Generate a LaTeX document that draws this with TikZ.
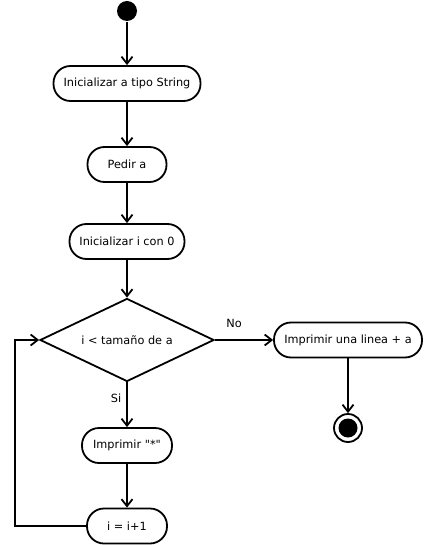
\documentclass[tikz,border=0pt]{standalone}
\usepackage{fontspec}
\setmainfont{DejaVu Sans}[Ligatures=TeXOff]
\usetikzlibrary{arrows.meta,shapes.geometric}
\begin{document}
\begin{tikzpicture}[x=1pt,y=-1pt,
  font=\fontsize{11.3}{13}\selectfont,
  line width=1.8pt,
  flow/.style={-{Straight Barb[length=7pt,width=11pt,line width=1.8pt]}},
  act/.style={draw,rounded corners=17pt,minimum height=35pt,inner sep=0pt},
  choice/.style={draw,diamond,minimum width=174pt,minimum height=83pt,inner sep=0pt,aspect=2.1},
  lbl/.style={inner sep=0pt}]
\useasboundingbox (0,0) rectangle (423,545);

% start and end
\node[circle,fill=black,minimum size=20pt,inner sep=0pt] (start) at (127,11) {};
\node[circle,draw,minimum size=28pt,inner sep=0pt] (stop) at (348,428) {};
\fill[black] (stop.center) circle (9.5pt);

% actions
\node[act,minimum width=147pt] (init) at (127,83.5) {Inicializar a tipo String};
\node[act,minimum width=79pt] (ask) at (127,164.5) {Pedir a};
\node[act,minimum width=115pt] (zero) at (127,241.5) {Inicializar i con 0};
\node[choice] (test) at (127,340) {i < tamaño de a};
\node[act,minimum width=148pt] (line) at (348,340) {Imprimir una linea + a};
\node[act,minimum width=90pt] (star) at (127,445.5) {Imprimir "*"};
\node[act,minimum width=80pt] (inc) at (127,526) {i = i+1};

% loop corner
\coordinate (back) at (15,526);

% connectors
\draw[flow] (start) -- (init);
\draw[flow] (init) -- (ask);
\draw[flow] (ask) -- (zero);
\draw[flow] (zero) -- (test);
\draw[flow] (test.east) -- (line.west);
\draw[flow] (line) -- (stop);
\draw[flow] (test.south) -- (star);
\draw[flow] (star) -- (inc);
\draw[flow] (inc.west) -- (back) |- (test.west);

% guard labels
\node[lbl] (no) at (234,323) {No};
\node[lbl] (si) at (116,398) {Si};
\end{tikzpicture}
\end{document}
